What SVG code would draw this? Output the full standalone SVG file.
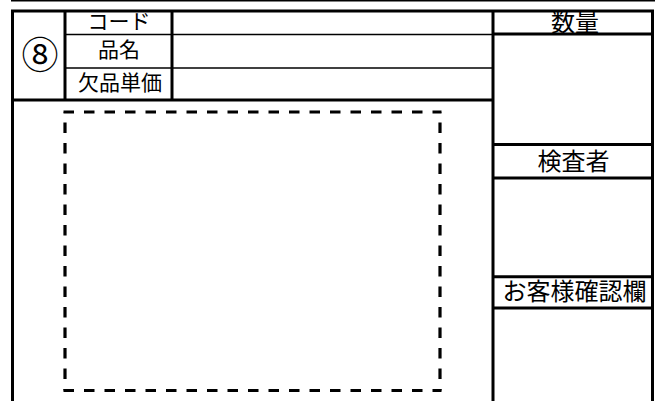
<svg xmlns="http://www.w3.org/2000/svg" width="659" height="401" viewBox="0 0 659 401">
<style>
.thick{stroke:#000;stroke-width:3;fill:none}
.thin{stroke:#000;stroke-width:1.4;fill:none}
.dh{stroke:#000;stroke-width:3.2;fill:none;stroke-dasharray:10.5 10}
.dv{stroke:#000;stroke-width:3.2;fill:none;stroke-dasharray:10.5 10;stroke-dashoffset:10}
.lbl{font-family:"Noto Sans CJK JP","Noto Sans CJK SC",sans-serif;font-size:21px;fill:#000;text-anchor:middle}
.rlbl{font-family:"Noto Sans CJK JP","Noto Sans CJK SC",sans-serif;font-size:24px;fill:#000;text-anchor:middle}
</style>
<rect width="659" height="401" fill="#fff"/>
<g id="frame">
<line class="thin" x1="11" y1="0.7" x2="655" y2="0.7"/>
<line class="thick" x1="12.5" y1="11" x2="12.5" y2="401"/>
<line class="thick" x1="11" y1="11" x2="654" y2="11"/>
<line class="thick" x1="12" y1="100" x2="493" y2="100"/>
</g>
<g id="header-table">
<line class="thick" x1="65" y1="11" x2="65" y2="100"/>
<line class="thick" x1="172" y1="11" x2="172" y2="100"/>
<line class="thin" x1="65" y1="34.5" x2="493" y2="34.5"/>
<line class="thin" x1="65" y1="68" x2="493" y2="68"/>
<text class="lbl" x="119" y="29">コード</text>
<text class="lbl" x="119" y="57">品名</text>
<text class="lbl" x="120" y="90">欠品単価</text>
</g>
<g id="item-number">
<text x="40" y="52.5" font-family="Noto Sans CJK JP,sans-serif" font-size="37" text-anchor="middle" dominant-baseline="central">⑧</text>
</g>
<g id="right-column">
<line class="thick" x1="493" y1="11" x2="493" y2="401"/>
<line class="thick" x1="652.5" y1="11" x2="652.5" y2="401"/>
<line class="thick" x1="493" y1="34" x2="653" y2="34"/>
<line class="thick" x1="493" y1="144.5" x2="653" y2="144.5"/>
<line class="thick" x1="493" y1="178" x2="653" y2="178"/>
<line class="thick" x1="493" y1="276.7" x2="653" y2="276.7"/>
<line class="thick" x1="493" y1="308" x2="653" y2="308"/>
<text class="rlbl" x="575" y="31">数量</text>
<text class="rlbl" x="573.5" y="170">検査者</text>
<text class="rlbl" x="574.5" y="300">お客様確認欄</text>
</g>
<g id="photo-area">
<line class="dh" x1="63.5" y1="112" x2="441.5" y2="112"/>
<line class="dh" x1="63.5" y1="390.5" x2="441.5" y2="390.5"/>
<line class="dv" x1="65" y1="112" x2="65" y2="390.5"/>
<line class="dv" x1="440" y1="112" x2="440" y2="390.5"/>
</g>
</svg>
